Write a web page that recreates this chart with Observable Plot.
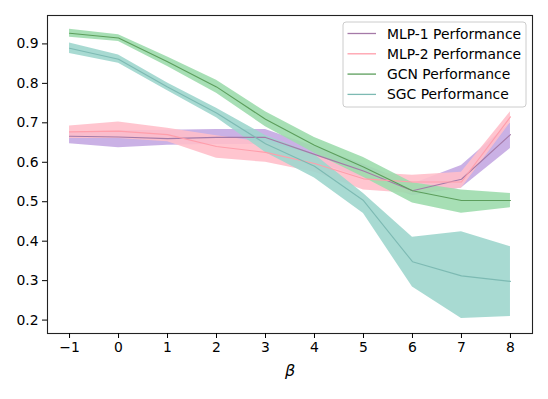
<!DOCTYPE html>
<html>
<head>
<meta charset="utf-8">
<script src="https://cdn.jsdelivr.net/npm/d3@7"></script>
<script src="https://cdn.jsdelivr.net/npm/@observablehq/plot@0.6"></script>
<style>
  body { margin: 0; background: #fff; }
  #chart svg { display: block; }
</style>
</head>
<body>
<div id="chart"></div>
<script>
const beta = [-1, 0, 1, 2, 3, 4, 5, 6, 7, 8];
const yTicks = [0.2, 0.3, 0.4, 0.5, 0.6, 0.7, 0.8, 0.9];

const seriesNames = ["MLP-1 Performance", "MLP-2 Performance", "GCN Performance", "SGC Performance"];

const mlp1   = [0.666, 0.664, 0.660, 0.663, 0.663, 0.620, 0.578, 0.528, 0.557, 0.670];
const mlp1Lo = [0.647, 0.637, 0.643, 0.645, 0.645, 0.600, 0.560, 0.515, 0.535, 0.635];
const mlp1Hi = [0.677, 0.680, 0.681, 0.683, 0.683, 0.640, 0.595, 0.545, 0.592, 0.700];

const mlp2   = [0.677, 0.679, 0.670, 0.640, 0.625, 0.597, 0.558, 0.550, 0.550, 0.715];
const mlp2Lo = [0.660, 0.660, 0.652, 0.610, 0.600, 0.575, 0.530, 0.521, 0.534, 0.700];
const mlp2Hi = [0.692, 0.702, 0.686, 0.667, 0.650, 0.620, 0.575, 0.567, 0.575, 0.728];

const gcn   = [0.927, 0.915, 0.855, 0.791, 0.709, 0.643, 0.588, 0.528, 0.503, 0.503];
const gcnLo = [0.917, 0.906, 0.843, 0.775, 0.690, 0.623, 0.562, 0.497, 0.471, 0.485];
const gcnHi = [0.937, 0.923, 0.867, 0.808, 0.728, 0.663, 0.612, 0.548, 0.530, 0.521];

const sgc   = [0.889, 0.861, 0.791, 0.725, 0.647, 0.590, 0.503, 0.348, 0.312, 0.298];
const sgcLo = [0.876, 0.851, 0.781, 0.713, 0.625, 0.560, 0.470, 0.284, 0.204, 0.209];
const sgcHi = [0.902, 0.872, 0.801, 0.737, 0.668, 0.620, 0.521, 0.410, 0.424, 0.386];

const lineColors = ["#a57aa8", "#ff9eab", "#5c9e5c", "#7dbab3"];
const bandColors = ["#c4a8e2", "#ffbfca", "#9ddbad", "#9ed6cd"];

const series = [
  [mlp1, mlp1Lo, mlp1Hi],
  [mlp2, mlp2Lo, mlp2Hi],
  [gcn, gcnLo, gcnHi],
  [sgc, sgcLo, sgcHi]
];

const tables = series.map(([m, lo, hi], si) =>
  beta.map((b, i) => ({beta: b, mean: m[i], lo: lo[i], hi: hi[i], series: seriesNames[si]}))
);

const areaMarks = tables.map((t, si) =>
  Plot.areaY(t, {x: "beta", y1: "lo", y2: "hi", fill: bandColors[si], fillOpacity: 0.9})
);
const lineMarks = tables.map((t, si) =>
  Plot.lineY(t, {x: "beta", y: "mean", stroke: lineColors[si], strokeWidth: 1.1})
);

const fmtX = d => d < 0 ? "\u2212" + Math.abs(d) : String(d);

const chart = Plot.plot({
  width: 548,
  height: 399,
  marginLeft: 47,
  marginRight: 16,
  marginTop: 15,
  marginBottom: 66,
  style: {fontFamily: "DejaVu Sans", fontSize: "13px", color: "#000", background: "#fff"},
  x: {domain: [-1.45, 8.45]},
  y: {domain: [0.166, 0.972]},
  marks: [
    ...areaMarks,
    ...lineMarks,
    Plot.frame({stroke: "#222", strokeWidth: 1.1}),
    Plot.axisX({ticks: beta, tickFormat: fmtX, tickSize: 5, tickPadding: 4, label: "β",
      labelAnchor: "center", labelArrow: "none", labelOffset: 42}),
    Plot.axisY({ticks: yTicks, tickFormat: d3.format(".1f"), tickSize: 5, tickPadding: 4, label: null})
  ]
});

document.getElementById("chart").appendChild(chart);

// tick label font to match matplotlib default size
d3.select(chart).selectAll("g[aria-label$='tick label'] text")
  .style("font-family", "'DejaVu Sans'").style("font-size", "13.9px");

// italic beta label
d3.select(chart).selectAll("text").filter(function() { return this.textContent === "β"; })
  .style("font-style", "italic").style("font-size", "16px").style("font-family", "'DejaVu Sans'");

// legend
const svg = d3.select(chart);
const lg = svg.append("g").attr("text-anchor", "start");
lg.append("rect").attr("x", 343).attr("y", 22).attr("width", 183).attr("height", 85)
  .attr("rx", 3).attr("fill", "#fff").attr("fill-opacity", 0.85).attr("stroke", "#ccc");
seriesNames.forEach((name, i) => {
  const cy = 33.5 + i * 20.3;
  lg.append("line").attr("x1", 347.5).attr("x2", 376).attr("y1", cy).attr("y2", cy)
    .attr("stroke", lineColors[i]).attr("stroke-width", 1.3);
  lg.append("text").attr("x", 387).attr("y", cy).attr("dy", "0.36em")
    .attr("text-anchor", "start").attr("fill", "#000")
    .style("font-family", "'DejaVu Sans'").style("font-size", "13.9px")
    .text(name);
});
</script>
</body>
</html>
